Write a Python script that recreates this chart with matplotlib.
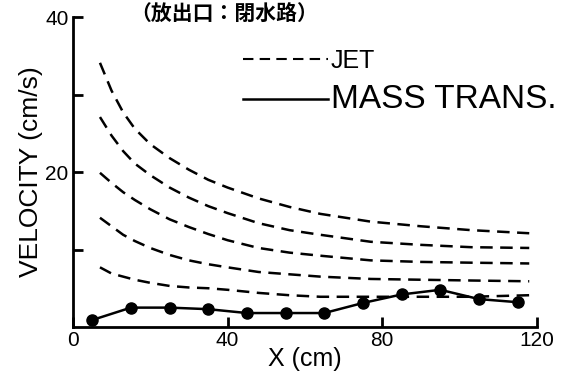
import matplotlib
matplotlib.use("Agg")
import matplotlib.pyplot as plt
from matplotlib.lines import Line2D

plt.rcParams['font.family'] = ['Liberation Sans', 'DejaVu Sans']

# mass transport velocity (measured points)
mt_x = [5, 15, 25, 35, 45, 55, 65, 75, 85, 95, 105, 115]
mt_v = [0.9, 2.5, 2.5, 2.3, 1.8, 1.8, 1.8, 3.1, 4.2, 4.8, 3.6, 3.2]

# jet velocity curves (dashed), read along a common x grid
jet_x = [7, 10, 13, 16, 20, 25, 30, 35, 40, 48, 56, 64, 77, 90, 103, 118]
jet_1 = [34.1, 30.5, 27.7, 25.6, 23.6, 21.8, 20.3, 19.0, 18.0, 16.6, 15.5, 14.6, 13.6, 13.0, 12.5, 12.1]
jet_2 = [27.1, 24.7, 22.7, 21.1, 19.6, 18.0, 16.7, 15.6, 14.7, 13.4, 12.5, 11.9, 11.0, 10.6, 10.3, 10.2]
jet_3 = [19.9, 18.6, 17.4, 16.4, 15.2, 13.9, 12.9, 12.0, 11.2, 10.2, 9.6, 9.2, 8.6, 8.4, 8.3, 8.2]
jet_4 = [14.1, 13.0, 11.9, 11.1, 10.2, 9.3, 8.6, 8.1, 7.7, 7.1, 6.8, 6.5, 6.2, 6.1, 6.0, 5.9]
jet_5 = [7.7, 6.9, 6.5, 6.1, 5.7, 5.3, 5.1, 5.0, 4.8, 4.4, 4.1, 3.9, 3.9, 3.9, 3.9, 4.1]
jets = [jet_1, jet_2, jet_3, jet_4, jet_5]

xticks = [0, 40, 80, 120]
yticks = [10, 20, 30, 40]
ylabels = ["", "20", "", "40"]

fig = plt.figure(figsize=(5.74, 3.72), dpi=100)
ax = fig.add_axes([0.127, 0.121, 0.8085, 0.833])

for j in jets:
    ax.plot(jet_x, j, color='black', lw=1.8, dashes=(5, 3))
ax.plot(mt_x, mt_v, color='black', lw=1.8, marker='o', markersize=8)

ax.set_xlim(0, 120)
ax.set_ylim(0, 40)
ax.spines['top'].set_visible(False)
ax.spines['right'].set_visible(False)
ax.spines['left'].set_linewidth(2)
ax.spines['bottom'].set_linewidth(2)
ax.set_xticks(xticks)
ax.set_yticks(yticks)
ax.set_yticklabels(ylabels)
ax.tick_params(direction='in', length=7, width=2, labelsize=15, pad=3)

ax.set_xlabel("X (cm)", fontsize=18, labelpad=-2)
ax.set_ylabel("VELOCITY (cm/s)", fontsize=19, labelpad=2)

handles = [Line2D([], [], color='black', lw=1.5, dashes=(5, 3)),
           Line2D([], [], color='black', lw=1.8)]
leg = ax.legend(handles, ['JET', 'MASS TRANS.'], loc='upper right',
                bbox_to_anchor=(1.09, 0.97), frameon=False,
                handlelength=3.4, handletextpad=0.1, labelspacing=0.45,
                fontsize=18)
leg.get_texts()[1].set_fontsize(24)

fig.text(0.39, 0.96, "（放出口：閉水路）", fontsize=15, fontweight='bold',
         ha='center', va='center', family=['Noto Sans CJK JP', 'DejaVu Sans'])

fig.savefig("out.png", dpi=100)
